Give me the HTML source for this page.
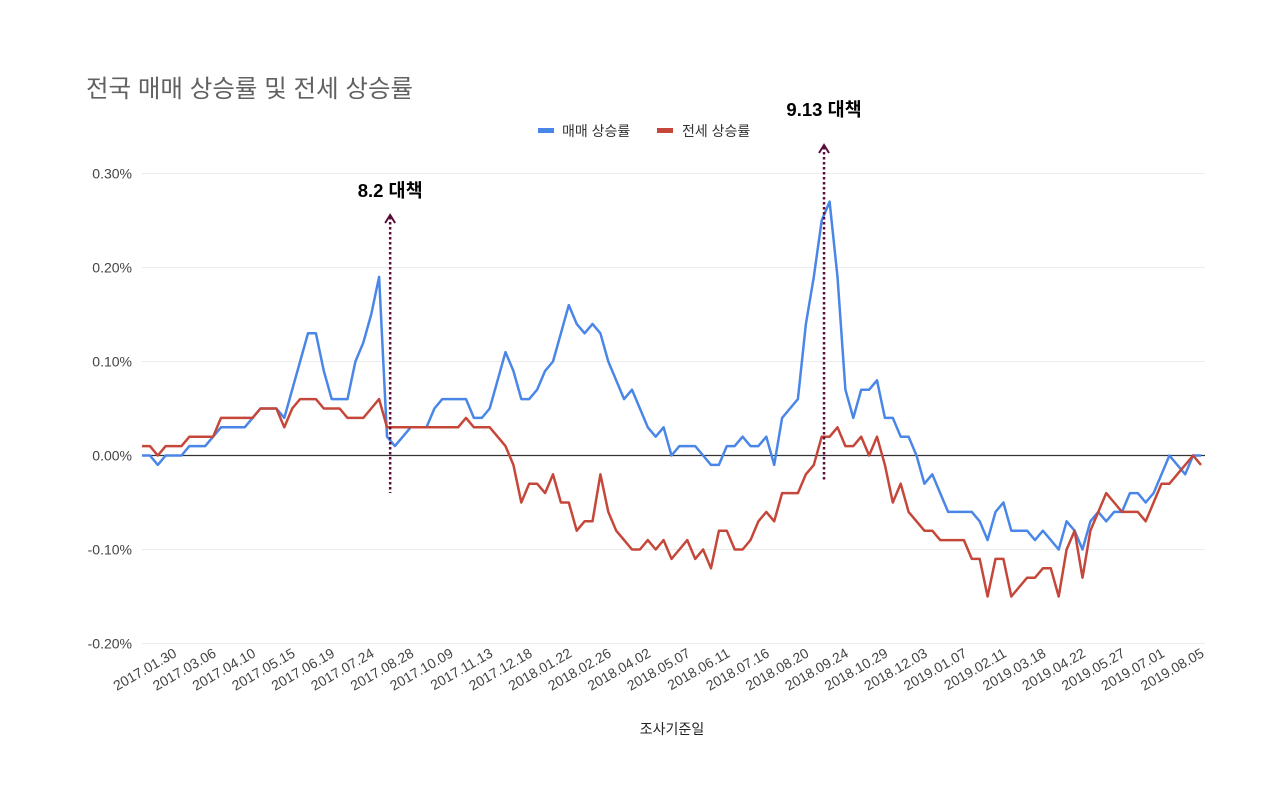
<!DOCTYPE html>
<html><head><meta charset="utf-8"><style>
html,body{margin:0;padding:0;background:#fff;}
svg{display:block;font-family:"Liberation Sans","Noto Sans CJK KR",sans-serif;}
</style></head><body>
<svg id="chart" width="1280" height="792" viewBox="0 0 1280 792" xmlns="http://www.w3.org/2000/svg">
<text x="86" y="97" font-size="24.5" fill="#616161">전국 매매 상승률 및 전세 상승률</text>
<g>
<g><rect x="538" y="128" width="16" height="5" fill="#4a86e8"/><text x="562" y="136" font-size="14" fill="#333">매매 상승률</text></g>
<g><rect x="657" y="128" width="16" height="5" fill="#c5473a"/><text x="682" y="136" font-size="14" fill="#333">전세 상승률</text></g>
</g>
<g id="grid"></g>
<g id="yaxis"></g>
<g id="xaxis"></g>
<g id="series"></g>
<g id="notes"></g>
<text x="672" y="734" font-size="14" fill="#222" text-anchor="middle">조사기준일</text>
</svg>
<script>
const saleValues=[0,0,-0.01,0,0,0,0.01,0.01,0.01,0.02,0.03,0.03,0.03,0.03,0.04,0.05,0.05,0.05,0.04,0.07,0.10,0.13,0.13,0.09,0.06,0.06,0.06,0.10,0.12,0.15,0.19,0.02,0.01,0.02,0.03,0.03,
0.03,0.05,0.06,0.06,0.06,0.06,0.04,0.04,0.05,0.08,0.11,0.09,0.06,0.06,0.07,0.09,0.10,0.13,0.16,0.14,0.13,0.14,0.13,0.10,0.08,0.06,0.07,0.05,0.03,0.02,0.03,0.00,0.01,0.01,0.01,0.00,
-0.01,-0.01,0.01,0.01,0.02,0.01,0.01,0.02,-0.01,0.04,0.05,0.06,0.14,0.19,0.25,0.27,0.19,0.07,0.04,0.07,0.07,0.08,0.04,0.04,0.02,0.02,0.00,-0.03,-0.02,-0.04,-0.06,-0.06,-0.06,-0.06,-0.07,
-0.09,-0.06,-0.05,-0.08,-0.08,-0.08,-0.09,-0.08,-0.09,-0.10,-0.07,-0.08,-0.10,-0.07,-0.06,-0.07,-0.06,-0.06,-0.04,-0.04,-0.05,-0.04,-0.02,0.00,-0.01,-0.02,0.00,0.00];
const jeonseValues=[0.01,0.01,0,0.01,0.01,0.01,0.02,0.02,0.02,0.02,0.04,0.04,0.04,0.04,0.04,0.05,0.05,0.05,0.03,0.05,0.06,0.06,0.06,0.05,0.05,0.05,0.04,0.04,0.04,0.05,0.06,0.03,0.03,0.03,0.03,0.03,
0.03,0.03,0.03,0.03,0.03,0.04,0.03,0.03,0.03,0.02,0.01,-0.01,-0.05,-0.03,-0.03,-0.04,-0.02,-0.05,-0.05,-0.08,-0.07,-0.07,-0.02,-0.06,-0.08,-0.09,-0.10,-0.10,-0.09,-0.10,-0.09,-0.11,-0.10,-0.09,-0.11,-0.10,
-0.12,-0.08,-0.08,-0.10,-0.10,-0.09,-0.07,-0.06,-0.07,-0.04,-0.04,-0.04,-0.02,-0.01,0.02,0.02,0.03,0.01,0.01,0.02,0.00,0.02,-0.01,-0.05,-0.03,-0.06,-0.07,-0.08,-0.08,-0.09,-0.09,-0.09,-0.09,-0.11,-0.11,
-0.15,-0.11,-0.11,-0.15,-0.14,-0.13,-0.13,-0.12,-0.12,-0.15,-0.10,-0.08,-0.13,-0.08,-0.06,-0.04,-0.05,-0.06,-0.06,-0.06,-0.07,-0.05,-0.03,-0.03,-0.02,-0.01,0.00,-0.01];
const yTicks=[0.30,0.20,0.10,0.00,-0.10,-0.20];
const xTickLabels=["2017.01.30","2017.03.06","2017.04.10","2017.05.15","2017.06.19","2017.07.24","2017.08.28","2017.10.09","2017.11.13","2017.12.18","2018.01.22","2018.02.26","2018.04.02","2018.05.07","2018.06.11","2018.07.16","2018.08.20","2018.09.24","2018.10.29","2018.12.03","2019.01.07","2019.02.11","2019.03.18","2019.04.22","2019.05.27","2019.07.01","2019.08.05"];
const noteLabels=["8.2 대책","9.13 대책"];
const noteIndex=[31.4,86.3];

const NS="http://www.w3.org/2000/svg";
const x0=142,x1=1201,n=saleValues.length;
function xs(i){return x0+(x1-x0)*i/(n-1);}
function ys(v){return 455.5-v*940;}
function mk(tag,attrs,parent){const e=document.createElementNS(NS,tag);for(const k in attrs)e.setAttribute(k,attrs[k]);parent.appendChild(e);return e;}
const grid=document.getElementById('grid'),yaxis=document.getElementById('yaxis'),xaxis=document.getElementById('xaxis'),series=document.getElementById('series'),notes=document.getElementById('notes');
yTicks.forEach(v=>{
  const l=mk('line',{x1:142,x2:1205,y1:ys(v),y2:ys(v),stroke:v===0?'#333':'#ececec','stroke-width':v===0?1.2:1},grid);
  
  
  const t=mk('text',{x:132,y:ys(v)+5,'font-size':14,fill:'#444','text-anchor':'end'},yaxis);
  t.textContent=v.toFixed(2)+'%';
  
  
});
xTickLabels.forEach((lab,k)=>{
  const x=xs(4+5*k)+4,y=656;
  const t=mk('text',{x:x,y:y,'font-size':14,fill:'#444','text-anchor':'end',transform:`rotate(-30 ${x} ${y})`},xaxis);
  t.textContent=lab;
  
  
});
function line(vals,color,name){
  const d=vals.map((v,i)=>(i?'L':'M')+xs(i).toFixed(1)+' '+ys(v).toFixed(1)).join(' ');
  const p=mk('path',{d:d,fill:'none',stroke:color,'stroke-width':2.5,'stroke-linejoin':'round'},series);
  
  
}
line(saleValues,'#4a86e8','sale-rate-line');
line(jeonseValues,'#c5473a','jeonse-rate-line');
const tops=[215,145],bots=[493,482],ly=[197,116];
noteIndex.forEach((ix,k)=>{
  const x=xs(ix);
  const g=mk('g',{},notes);
  
  
  mk('line',{x1:x,x2:x,y1:tops[k]+2,y2:bots[k],stroke:'#5a0b3a','stroke-width':2.5,'stroke-dasharray':'2.5 2.5'},g);
  mk('path',{d:`M${x-5} ${tops[k]+8} L${x} ${tops[k]} L${x+5} ${tops[k]+8}`,fill:'none',stroke:'#5a0b3a','stroke-width':2},g);
  const t=mk('text',{x:x,y:ly[k],'font-size':18.5,'font-weight':'bold',fill:'#000','text-anchor':'middle'},g);
  t.textContent=noteLabels[k];
  
  
});
</script>
</body></html>
